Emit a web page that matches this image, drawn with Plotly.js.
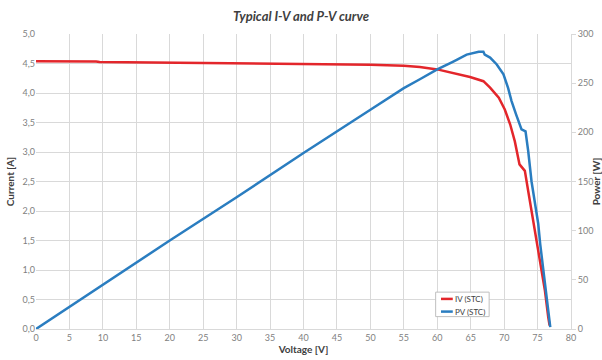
<!DOCTYPE html>
<html>
<head>
<meta charset="utf-8">
<script src="https://cdn.plot.ly/plotly-3.0.1.min.js"></script>
<style>html,body{margin:0;padding:0;background:#fff;}#chart{width:602px;height:360px;}</style>
</head>
<body>
<div id="chart"></div>
<script>
// I-V curve (STC): voltage [V] and current [A]
var ivVoltage = [0, 5, 9, 9.5, 15, 20, 25, 30, 35, 40, 45, 50, 55, 57.4, 60, 62.4, 64.9, 66.9, 67.9, 69.2, 70.1, 70.9, 71.6, 72.3, 73.1, 73.6, 74.1, 74.6, 75.1, 75.6, 76.1, 76.6, 76.8];
var ivCurrent = [4.54, 4.54, 4.535, 4.525, 4.52, 4.515, 4.515, 4.51, 4.505, 4.50, 4.49, 4.48, 4.46, 4.44, 4.40, 4.34, 4.27, 4.20, 4.09, 3.92, 3.72, 3.47, 3.18, 2.79, 2.68, 2.34, 2.0, 1.66, 1.32, 0.99, 0.65, 0.2, 0.06];
// P-V curve (STC): voltage [V] and power [W]
var pvVoltage = [0, 10, 20, 30, 40, 50, 55, 57.4, 60, 62.4, 64.4, 66.2, 66.9, 67.1, 67.9, 68.9, 69.9, 70.6, 71.1, 71.8, 72.6, 73.2, 73.6, 74.1, 74.6, 75.1, 75.4, 75.9, 76.4, 76.9];
var pvPower = [0, 45, 90, 134, 179, 223, 245, 254, 264, 272, 279, 282, 282, 279, 276, 269, 259, 245, 232, 218, 203, 201, 181, 150, 127, 107, 86, 59, 32, 2];

// Left axis tick values and labels (comma decimal)
var currentTicks = [0, 0.5, 1, 1.5, 2, 2.5, 3, 3.5, 4, 4.5, 5];
var currentTickLabels = ['0,0', '0,5', '1,0', '1,5', '2,0', '2,5', '3,0', '3,5', '4,0', '4,5', '5,0'];

var seriesNames = ['IV (STC)', 'PV (STC)'];
var seriesColors = ['#E3262B', '#2A7DC0'];
var chartTitle = 'Typical I-V and P-V curve';

var traces = [
  {x: ivVoltage, y: ivCurrent, name: seriesNames[0], type: 'scatter', mode: 'lines',
   line: {color: seriesColors[0], width: 2.5}, yaxis: 'y', showlegend: false},
  {x: pvVoltage, y: pvPower, name: seriesNames[1], type: 'scatter', mode: 'lines',
   line: {color: seriesColors[1], width: 2.5}, yaxis: 'y2', showlegend: false}
];

var fam = 'Lato, "Open Sans", sans-serif';
var tickFont = {family: fam, size: 9, color: '#7f7f7f'};
var axTitleFont = {family: fam, size: 10, color: '#404040', weight: 'bold'};

// custom compact legend (box + line samples + text)
var legendShapes = [
  {type: 'rect', xref: 'paper', yref: 'paper', x0: 0.747, x1: 0.847, y0: 0.042, y1: 0.125,
   fillcolor: '#fff', line: {color: '#bfbfbf', width: 1}, layer: 'above'},
  {type: 'line', xref: 'paper', yref: 'paper', x0: 0.757, x1: 0.779, y0: 0.102, y1: 0.102,
   line: {color: seriesColors[0], width: 2.5}, layer: 'above'},
  {type: 'line', xref: 'paper', yref: 'paper', x0: 0.757, x1: 0.779, y0: 0.059, y1: 0.059,
   line: {color: seriesColors[1], width: 2.5}, layer: 'above'}
];
var legendAnnotations = [
  {xref: 'paper', yref: 'paper', x: 0.780, y: 0.102, xanchor: 'left', yanchor: 'middle', showarrow: false,
   text: seriesNames[0], font: {family: fam, size: 8, color: '#404040'}},
  {xref: 'paper', yref: 'paper', x: 0.780, y: 0.059, xanchor: 'left', yanchor: 'middle', showarrow: false,
   text: seriesNames[1], font: {family: fam, size: 8, color: '#404040'}}
];

var layout = {
  width: 602, height: 360,
  margin: {l: 36, r: 31, t: 34, b: 31},
  paper_bgcolor: '#fff', plot_bgcolor: '#fff',
  showlegend: false,
  title: {text: chartTitle, x: 0.5, xanchor: 'center', y: 0.955, yanchor: 'middle',
    font: {family: fam, size: 13, color: '#404040', weight: 'bold', style: 'italic'}},
  xaxis: {range: [0, 80], dtick: 5, tick0: 0, showgrid: true, gridcolor: '#d9d9d9', gridwidth: 1,
    zeroline: false, showline: true, linecolor: '#d9d9d9', ticks: '', tickfont: tickFont,
    title: {text: 'Voltage [V]', font: axTitleFont, standoff: 4}},
  yaxis: {range: [0, 5], tickmode: 'array', tickvals: currentTicks, ticktext: currentTickLabels,
    showgrid: true, gridcolor: '#d9d9d9',
    zeroline: false, showline: false, ticks: '', tickfont: tickFont,
    title: {text: 'Current [A]', font: axTitleFont, standoff: 6}},
  yaxis2: {range: [0, 300], dtick: 50, tick0: 0, overlaying: 'y', side: 'right', showgrid: false,
    zeroline: false, showline: true, linecolor: '#d9d9d9', ticks: 'outside', ticklen: 4, tickcolor: '#d9d9d9',
    tickfont: tickFont,
    title: {text: 'Power [W]', font: axTitleFont, standoff: 8}},
  shapes: legendShapes,
  annotations: legendAnnotations
};

Plotly.newPlot('chart', traces, layout, {displayModeBar: false, staticPlot: true});
</script>
</body>
</html>
